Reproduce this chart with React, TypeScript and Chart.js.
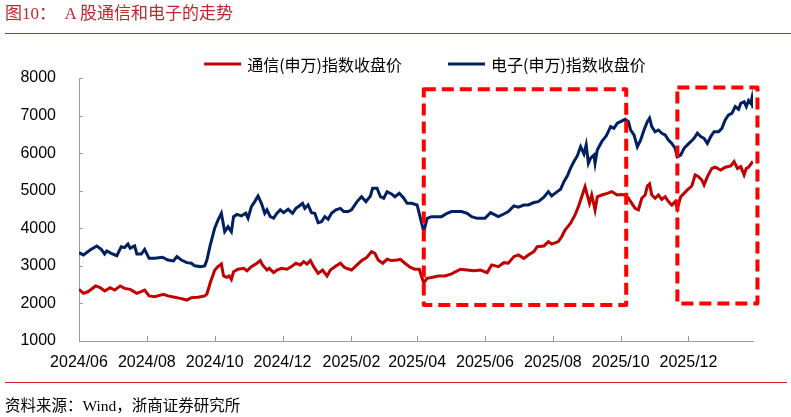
import React, { useEffect, useRef } from 'react';
import { Chart, registerables } from 'chart.js';

Chart.register(...registerables);

// Day offsets are counted from 2024-06-01.
const tickDays = [0, 61, 122, 183, 245, 304, 365, 426, 487, 548];
const tickLabels = ['2024/06', '2024/08', '2024/10', '2024/12', '2025/02', '2025/04', '2025/06', '2025/08', '2025/10', '2025/12'];
const lastDay = 606;

const telecomLabel = '通信(申万)指数收盘价';
const electronicsLabel = '电子(申万)指数收盘价';

const telecomDays = [0, 4, 8, 15, 19, 23, 28, 32, 37, 41, 46, 52, 59, 63, 68, 76, 80, 86, 91, 97, 101, 107, 113, 115, 118, 122, 125, 128, 130, 133, 135, 137, 139, 143, 148, 151, 155, 160, 163, 165, 169, 171, 175, 178, 182, 187, 191, 195, 199, 202, 205, 208, 211, 215, 219, 223, 226, 231, 235, 239, 245, 250, 254, 259, 263, 266, 269, 273, 277, 281, 286, 289, 293, 298, 302, 306, 308, 310, 313, 318, 323, 329, 335, 343, 349, 355, 361, 367, 371, 377, 382, 386, 391, 395, 400, 404, 409, 412, 418, 422, 425, 431, 434, 437, 442, 446, 449, 452, 455, 457, 459, 461, 464, 466, 470, 475, 479, 484, 487, 491, 494, 497, 500, 503, 506, 509, 511, 513, 515, 518, 521, 524, 527, 530, 533, 536, 538, 541, 544, 547, 551, 554, 557, 560, 562, 565, 569, 572, 577, 581, 586, 589, 592, 595, 598, 600, 602, 605, 606];
const telecomClose = [2375, 2270, 2310, 2465, 2420, 2330, 2420, 2355, 2465, 2400, 2375, 2270, 2355, 2200, 2180, 2245, 2200, 2165, 2135, 2090, 2155, 2165, 2200, 2250, 2550, 2880, 2980, 3050, 2730, 2695, 2730, 2640, 2845, 2910, 2935, 2870, 2980, 3070, 3140, 3025, 2890, 2935, 2820, 2890, 2935, 2910, 2980, 3070, 3025, 3110, 3050, 3140, 2980, 2800, 2890, 2730, 2890, 2995, 3070, 2950, 2890, 3025, 3140, 3230, 3380, 3335, 3155, 3070, 3175, 3140, 3155, 3175, 3070, 2960, 2910, 2910, 2710, 2550, 2670, 2695, 2730, 2730, 2785, 2910, 2890, 2870, 2890, 2820, 3025, 2980, 3085, 3070, 3245, 3290, 3200, 3290, 3380, 3510, 3530, 3645, 3580, 3645, 3775, 3955, 4135, 4355, 4575, 4840, 5105, 4885, 4665, 4885, 4490, 4840, 4885, 4930, 4975, 4885, 4900, 4885, 4800, 4665, 4530, 4490, 4800, 4885, 5125, 5180, 4885, 4800, 4885, 4770, 4840, 4710, 4620, 4710, 4530, 4840, 4930, 5020, 5125, 5420, 5375, 5285, 5155, 5375, 5595, 5625, 5550, 5625, 5660, 5775, 5595, 5640, 5420, 5595, 5625, 5745, 5710];

const electronicsDays = [0, 4, 10, 16, 20, 23, 25, 29, 34, 38, 41, 44, 46, 50, 52, 56, 59, 63, 68, 75, 80, 85, 88, 92, 97, 101, 104, 109, 113, 115, 118, 122, 125, 128, 131, 134, 137, 139, 142, 146, 150, 152, 155, 158, 161, 164, 167, 169, 172, 175, 178, 181, 184, 188, 192, 195, 198, 201, 203, 206, 209, 212, 215, 218, 221, 224, 227, 231, 235, 238, 242, 245, 250, 254, 258, 262, 264, 268, 271, 274, 277, 281, 284, 288, 292, 295, 299, 304, 307, 310, 313, 317, 322, 326, 331, 335, 340, 344, 349, 353, 358, 365, 370, 374, 377, 382, 386, 391, 395, 400, 404, 409, 413, 418, 422, 425, 430, 433, 436, 439, 442, 445, 448, 451, 454, 456, 458, 460, 463, 464, 466, 470, 474, 478, 481, 484, 487, 491, 494, 496, 499, 502, 505, 508, 511, 513, 515, 518, 521, 524, 527, 530, 533, 536, 538, 541, 544, 547, 550, 553, 556, 559, 562, 565, 568, 571, 575, 578, 581, 584, 587, 590, 593, 595, 598, 600, 602, 604, 605, 606];
const electronicsClose = [3350, 3290, 3420, 3530, 3440, 3315, 3395, 3335, 3270, 3510, 3485, 3580, 3470, 3530, 3315, 3315, 3440, 3200, 3200, 3230, 3155, 3130, 3245, 3155, 3085, 3070, 3000, 2980, 3000, 3155, 3550, 4000, 4220, 4400, 3910, 4040, 3910, 4310, 4370, 4330, 4400, 4270, 4575, 4710, 4860, 4665, 4400, 4490, 4310, 4270, 4400, 4490, 4415, 4505, 4400, 4530, 4595, 4665, 4530, 4620, 4415, 4400, 4150, 4175, 4310, 4240, 4400, 4490, 4530, 4445, 4445, 4490, 4710, 4840, 4710, 4860, 5065, 5065, 4840, 4800, 4975, 4915, 4840, 4930, 4800, 4665, 4665, 4620, 4265, 3910, 4265, 4310, 4310, 4310, 4400, 4445, 4445, 4445, 4400, 4310, 4265, 4265, 4415, 4355, 4310, 4380, 4445, 4595, 4560, 4620, 4620, 4685, 4710, 4825, 4975, 4860, 4975, 5040, 5240, 5390, 5600, 5775, 5925, 6170, 5980, 6220, 5730, 5865, 5950, 5730, 6085, 6305, 6455, 6705, 6660, 6795, 6840, 6900, 6835, 6615, 6485, 6170, 6350, 6615, 6835, 6930, 6705, 6570, 6615, 6530, 6485, 6350, 6260, 6130, 5905, 5950, 6130, 6220, 6305, 6395, 6530, 6440, 6395, 6260, 6440, 6570, 6570, 6660, 6885, 7015, 7060, 7240, 7170, 7325, 7370, 7240, 7400, 7325, 7460, 7195];

// Highlighted windows (dashed frames)
const frameStartDays = [310, 538];
const frameEndDays = [492, 610];
const frameLows = [1960, 2000];
const frameHighs = [7700, 7745];

const TELECOM_COLOR = '#C00000';
const ELECTRONICS_COLOR = '#002060';
const AXIS_COLOR = '#9a9a9a';
const RULE_COLOR = '#cc1f2a';
const TICK_FONT = { family: '"Liberation Sans", Arial, sans-serif', size: 16 };

const innerTicks = {
  id: 'innerTicks',
  beforeDatasetsDraw(chart: any) {
    const { ctx, chartArea, scales } = chart;
    const x = scales.x;
    const y = scales.y;
    ctx.save();
    ctx.strokeStyle = AXIS_COLOR;
    ctx.lineWidth = 1;
    ctx.beginPath();
    x.ticks.forEach((t: any) => {
      const px = Math.round(x.getPixelForValue(t.value)) + 0.5;
      ctx.moveTo(px, chartArea.bottom);
      ctx.lineTo(px, chartArea.bottom - 5);
    });
    y.ticks.forEach((t: any) => {
      const py = Math.round(y.getPixelForValue(t.value)) + 0.5;
      ctx.moveTo(chartArea.left, py);
      ctx.lineTo(chartArea.left + 4, py);
    });
    ctx.stroke();
    ctx.restore();
  },
};

const dashedFrames = {
  id: 'dashedFrames',
  afterDatasetsDraw(chart: any) {
    const { ctx, scales } = chart;
    const x = scales.x;
    const y = scales.y;
    ctx.save();
    ctx.strokeStyle = '#ff0000';
    ctx.lineWidth = 4;
    ctx.lineJoin = 'round';
    ctx.setLineDash([12, 6]);
    frameStartDays.forEach((d, i) => {
      const l = x.getPixelForValue(d);
      const r = x.getPixelForValue(frameEndDays[i]);
      const t = y.getPixelForValue(frameHighs[i]);
      const b = y.getPixelForValue(frameLows[i]);
      ctx.strokeRect(l, t, r - l, b - t);
    });
    ctx.restore();
  },
};

const seriesKey = {
  id: 'seriesKey',
  afterDraw(chart: any, _args: any, opts: any) {
    const { ctx } = chart;
    ctx.save();
    ctx.font = `${opts.size}px ${opts.family}`;
    ctx.textBaseline = 'middle';
    ctx.textAlign = 'left';
    const items = chart.data.datasets.map((ds: any) => ({
      text: ds.label,
      color: ds.borderColor,
      w: ctx.measureText(ds.label).width,
    }));
    const total =
      items.reduce((s: number, it: any) => s + opts.lineLen + opts.textGap + it.w, 0) +
      opts.itemGap * (items.length - 1);
    let cx = opts.centerX - total / 2;
    items.forEach((it: any) => {
      ctx.strokeStyle = it.color;
      ctx.lineWidth = 3;
      ctx.beginPath();
      ctx.moveTo(cx, opts.y);
      ctx.lineTo(cx + opts.lineLen, opts.y);
      ctx.stroke();
      ctx.fillStyle = '#000';
      ctx.fillText(it.text, cx + opts.lineLen + opts.textGap, opts.y + 1);
      cx += opts.lineLen + opts.textGap + it.w + opts.itemGap;
    });
    ctx.restore();
  },
};

export default function App() {
  const canvasRef = useRef<HTMLCanvasElement | null>(null);

  useEffect(() => {
    const canvas = canvasRef.current;
    if (!canvas) return;
    const toPoints = (days: number[], vals: number[]) => days.map((d, i) => ({ x: d, y: vals[i] }));
    const chart = new Chart(canvas, {
      type: 'line',
      data: {
        datasets: [
          {
            label: telecomLabel,
            data: toPoints(telecomDays, telecomClose),
            borderColor: TELECOM_COLOR,
            backgroundColor: TELECOM_COLOR,
            borderWidth: 3,
            pointRadius: 0,
            tension: 0,
          },
          {
            label: electronicsLabel,
            data: toPoints(electronicsDays, electronicsClose),
            borderColor: ELECTRONICS_COLOR,
            backgroundColor: ELECTRONICS_COLOR,
            borderWidth: 3,
            pointRadius: 0,
            tension: 0,
          },
        ],
      },
      options: {
        responsive: false,
        animation: false,
        layout: { padding: { top: 78, right: 38, bottom: 0, left: 0 } },
        plugins: {
          legend: { display: false },
          tooltip: { enabled: false },
          seriesKey: {
            centerX: 425,
            y: 64,
            lineLen: 37,
            textGap: 6,
            itemGap: 46,
            size: 16,
            family: '"Noto Sans CJK SC", sans-serif',
          },
        } as any,
        scales: {
          x: {
            type: 'linear',
            min: 0,
            max: lastDay,
            grid: { display: false },
            border: { display: true, color: AXIS_COLOR, width: 1 },
            afterBuildTicks: (scale: any) => {
              scale.ticks = tickDays.map((v) => ({ value: v }));
            },
            afterFit: (scale: any) => {
              scale.height = 76;
            },
            ticks: {
              autoSkip: false,
              maxRotation: 0,
              padding: 4,
              color: '#000',
              font: TICK_FONT,
              callback: (v: any) => {
                const i = tickDays.indexOf(Number(v));
                return i >= 0 ? tickLabels[i] : '';
              },
            },
          },
          y: {
            min: 1000,
            max: 8000,
            grid: { display: false },
            border: { display: true, color: AXIS_COLOR, width: 1 },
            afterFit: (scale: any) => {
              scale.width = 79;
            },
            ticks: {
              stepSize: 1000,
              padding: 15,
              color: '#000',
              font: TICK_FONT,
              callback: (v: any) => String(v),
            },
          },
        },
      },
      plugins: [innerTicks, dashedFrames, seriesKey],
    });
    return () => chart.destroy();
  }, []);

  const serif = '"Liberation Serif", "Noto Sans CJK SC", serif';

  return (
    <div style={{ position: 'absolute', left: 0, top: 0, width: 791, height: 417, background: '#fff', overflow: 'hidden' }}>
      <canvas ref={canvasRef} width={791} height={417} style={{ position: 'absolute', left: 0, top: 0 }} />
      <div
        style={{
          position: 'absolute',
          left: 5,
          top: 4,
          fontFamily: serif,
          fontSize: 17,
          lineHeight: '20px',
          color: '#c0262d',
          whiteSpace: 'pre',
        }}
      >
        图10：  A 股通信和电子的走势
      </div>
      <div style={{ position: 'absolute', left: 5, top: 33, width: 786, height: 1, background: RULE_COLOR }} />
      <div style={{ position: 'absolute', left: 5, top: 382, width: 782, height: 1, background: RULE_COLOR }} />
      <div
        style={{
          position: 'absolute',
          left: 5,
          top: 397,
          fontFamily: serif,
          fontSize: 15.5,
          lineHeight: '18px',
          color: '#000',
          whiteSpace: 'pre',
        }}
      >
        资料来源：Wind，浙商证券研究所
      </div>
    </div>
  );
}
